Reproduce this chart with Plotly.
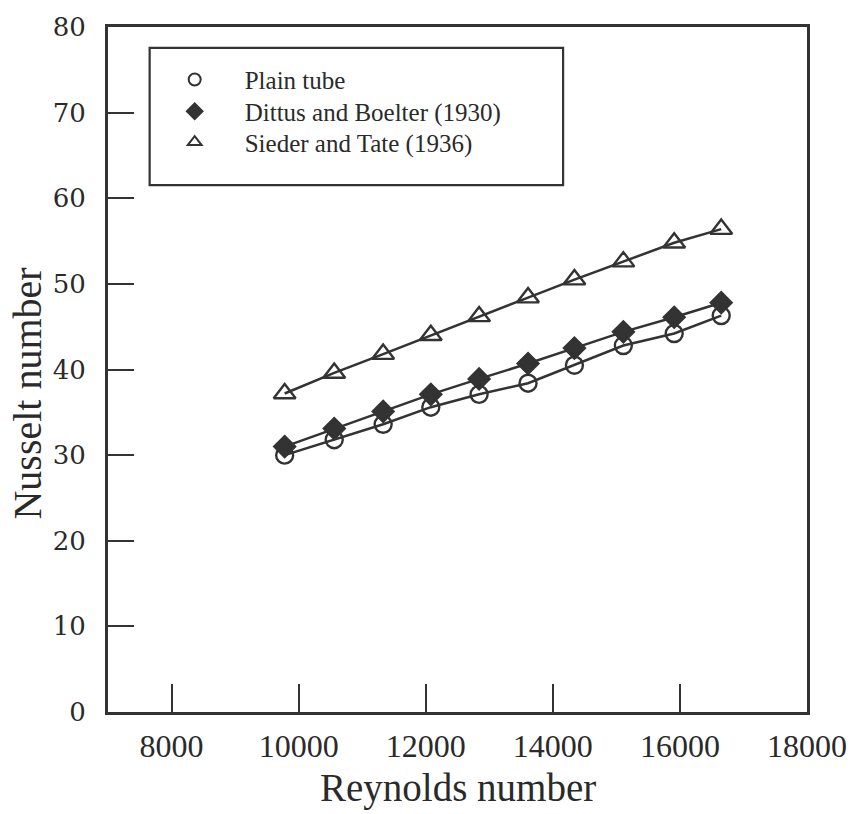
import plotly.graph_objects as go

# Data
reynolds = [9780, 10560, 11330, 12080, 12840, 13610, 14340, 15110, 15910, 16650]
nu_plain = [30.0, 31.8, 33.6, 35.6, 37.1, 38.4, 40.5, 42.8, 44.2, 46.3]
nu_dittus = [31.0, 33.1, 35.1, 37.1, 38.9, 40.7, 42.5, 44.4, 46.1, 47.8]
nu_sieder = [37.2, 39.6, 41.8, 44.0, 46.2, 48.4, 50.5, 52.6, 54.8, 56.4]

series_names = ["Plain tube", "Dittus and Boelter (1930)", "Sieder and Tate (1936)"]
x_ticks = [8000, 10000, 12000, 14000, 16000, 18000]
y_ticks = [0, 10, 20, 30, 40, 50, 60, 70, 80]

INK = "#333333"
TXT = "#2a2a2a"
W, H = 859, 814
ML, MR, MT, MB = 108, 46, 23, 102
PW, PH = W - ML - MR, H - MT - MB


def px_to_paper_x(px):
    return (px - ML) / PW


def px_to_paper_y(py):
    return (H - MB - py) / PH


fig = go.Figure()

series = [
    (nu_plain, "circle-open", 17, "legend"),
    (nu_dittus, "diamond", 16, "legend2"),
    (nu_sieder, "triangle-up-open", 19, "legend3"),
]

for (vals, sym, size, leg), name in zip(series, series_names):
    fig.add_trace(go.Scatter(
        x=reynolds, y=vals, mode="lines",
        line=dict(color=INK, width=2.5),
        showlegend=False, hoverinfo="skip"))
    fig.add_trace(go.Scatter(
        x=reynolds, y=vals, mode="markers", name=name,
        marker=dict(symbol=sym, size=size, color=INK,
                    line=dict(color=INK, width=2.4)),
        legend=leg, showlegend=True))

legend_rows_px = [76, 108, 139]
legend_common = dict(
    x=px_to_paper_x(145), xanchor="left", yanchor="middle",
    bgcolor="rgba(0,0,0,0)", borderwidth=0,
    itemwidth=90, itemsizing="constant",
    font=dict(family="Liberation Serif", size=25, color=TXT),
    tracegroupgap=0,
)

fig.update_layout(
    width=W, height=H,
    margin=dict(l=ML, r=MR, t=MT, b=MB),
    paper_bgcolor="white", plot_bgcolor="white",
    legend=dict(y=px_to_paper_y(legend_rows_px[0]), **legend_common),
    legend2=dict(y=px_to_paper_y(legend_rows_px[1]), **legend_common),
    legend3=dict(y=px_to_paper_y(legend_rows_px[2]), **legend_common),
    xaxis=dict(
        range=[7000, 18000], tickvals=x_ticks,
        ticktext=[str(v) for v in x_ticks],
        ticks="inside", ticklen=28, tickwidth=2.2, tickcolor=INK,
        showline=True, linecolor=INK, linewidth=2.8, mirror=True,
        showgrid=False, zeroline=False,
        tickfont=dict(family="Liberation Serif", size=32, color=TXT),
        ticklabelstandoff=4,
    ),
    yaxis=dict(
        range=[0, 80], tickvals=y_ticks,
        ticks="inside", ticklen=26, tickwidth=2.2, tickcolor=INK,
        showline=True, linecolor=INK, linewidth=2.8, mirror=True,
        showgrid=False, zeroline=False,
        tickfont=dict(family="DejaVu Serif", size=26, color=TXT),
        ticklabelstandoff=14,
    ),
    shapes=[dict(
        type="rect", xref="paper", yref="paper",
        x0=px_to_paper_x(150), x1=px_to_paper_x(567),
        y0=px_to_paper_y(182), y1=px_to_paper_y(44),
        line=dict(color=INK, width=2.2), fillcolor="rgba(0,0,0,0)",
    )],
    annotations=[
        dict(text="Reynolds number", xref="paper", yref="paper",
             x=0.5, y=px_to_paper_y(788), xanchor="center", yanchor="middle",
             showarrow=False,
             font=dict(family="Liberation Serif", size=39, color=TXT)),
        dict(text="Nusselt number", xref="paper", yref="paper",
             x=px_to_paper_x(27), y=px_to_paper_y(392),
             xanchor="center", yanchor="middle", textangle=-90,
             showarrow=False,
             font=dict(family="Liberation Serif", size=40, color=TXT)),
    ],
)

fig.write_html(
    "out.html",
    config={"displayModeBar": False},
    post_script="document.body.style.margin='0';document.body.style.overflow='hidden';",
)
